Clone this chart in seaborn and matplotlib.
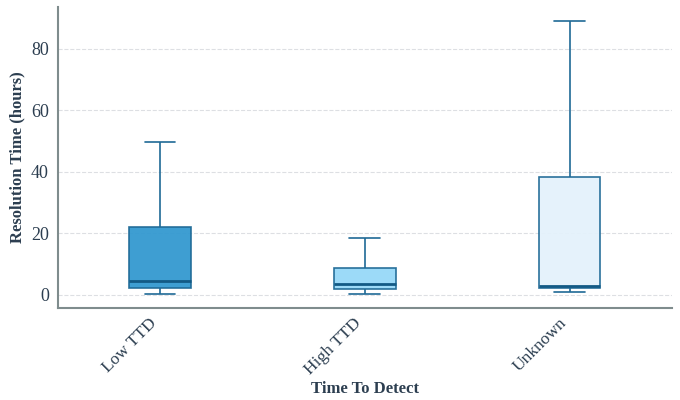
import matplotlib
matplotlib.use("Agg")
import matplotlib.pyplot as plt
import seaborn as sns
import pandas as pd

# Five-number summaries per detection group (min, Q1, median, Q3, max), hours
categories = ["Low TTD", "High TTD", "Unknown"]
low_ttd = [0.2, 2.3, 4.4, 21.9, 49.8]
high_ttd = [0.1, 1.8, 3.3, 8.7, 18.4]
unknown = [0.7, 2.1, 2.9, 38.2, 89.1]
box_colors = ["#3399d0", "#97d8f8", "#e4f2fb"]

df = pd.DataFrame({
    "Time To Detect": [c for c, vals in zip(categories, [low_ttd, high_ttd, unknown]) for _ in vals],
    "Resolution Time (hours)": low_ttd + high_ttd + unknown,
})

sns.set_style("white")
plt.rcParams["font.family"] = ["Liberation Serif", "DejaVu Serif"]
text_color = "#2c3e50"
spine_color = "#7f8c8d"
edge = "#1f6a96"

fig, ax = plt.subplots(figsize=(6.8, 4.0), dpi=100)
fig.subplots_adjust(left=0.085, right=0.988, top=0.982, bottom=0.23)

sns.boxplot(
    data=df, x="Time To Detect", y="Resolution Time (hours)",
    hue="Time To Detect", palette=box_colors, order=categories,
    legend=False, width=0.3, whis=(0, 100), linecolor=edge, linewidth=1.2,
    showfliers=False, saturation=1,
    boxprops=dict(alpha=0.95),
    medianprops=dict(color="#135a85", linewidth=2),
    ax=ax,
)

ax.set_xlim(-0.5, 2.5)
ax.grid(axis="y", linestyle="--", color="#d5d8dc", linewidth=0.8, alpha=0.8)
ax.set_axisbelow(True)
for side in ["top", "right"]:
    ax.spines[side].set_visible(False)
for side in ["left", "bottom"]:
    ax.spines[side].set_color(spine_color)
    ax.spines[side].set_linewidth(1.5)

ax.tick_params(axis="both", colors=spine_color, labelcolor=text_color,
               labelsize=13, length=3, width=1)
ax.tick_params(axis="x", labelsize=12.5, pad=2)
ax.set_yticks([0, 20, 40, 60, 80])
plt.setp(ax.get_xticklabels(), rotation=45, ha="right")

ax.set_xlabel("Time To Detect", fontsize=12, fontweight="bold", color=text_color, labelpad=2)
ax.set_ylabel("Resolution Time (hours)", fontsize=12, fontweight="bold", color=text_color)

fig.savefig("out.png", dpi=100)
